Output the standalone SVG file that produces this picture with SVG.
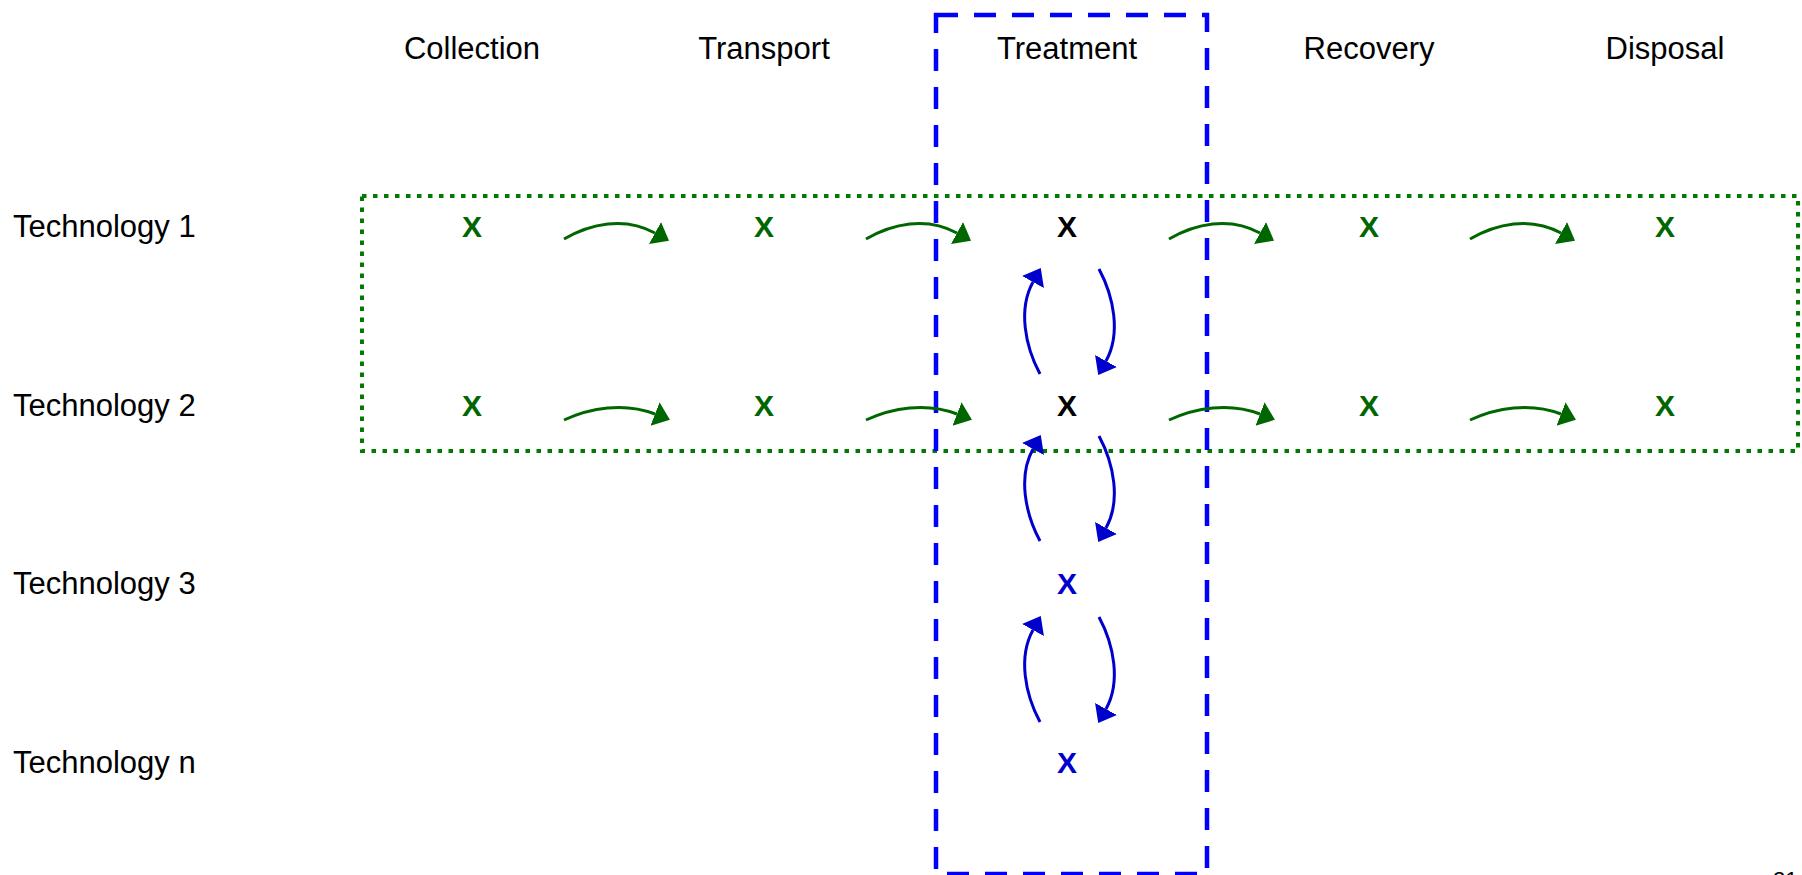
<svg xmlns="http://www.w3.org/2000/svg" width="1802" height="875" viewBox="0 0 1802 875">
<style>
text{font-family:"Liberation Sans",Arial,sans-serif;}
.hdr{font-size:31px;fill:#000;text-anchor:middle;}
.row{font-size:31px;fill:#000;}
.x{font-size:30px;font-weight:bold;text-anchor:middle;}
.g{fill:#006600;}
.k{fill:#000;}
.b{fill:#0000CC;}
.ga{fill:none;stroke:#006600;stroke-width:3;marker-end:url(#ahg);}
.ba{fill:none;stroke:#0000CC;stroke-width:3;marker-end:url(#ahb);}
</style>
<defs>
<marker id="ahg" viewBox="0 0 18 28" markerWidth="18" markerHeight="28" refX="0" refY="14" orient="auto" markerUnits="userSpaceOnUse">
<path d="M0,1.5 L16,14 L0,26.5 Z" fill="#006600"/>
</marker>
<marker id="ahb" viewBox="0 0 18 28" markerWidth="18" markerHeight="28" refX="0" refY="14" orient="auto" markerUnits="userSpaceOnUse">
<path d="M0,1.5 L16,14 L0,26.5 Z" fill="#0000CC"/>
</marker>
</defs>
<rect width="1802" height="875" fill="#fff"/>

<g id="frames">
<rect id="tech-band" x="362" y="196" width="1436" height="255" fill="none" stroke="#007A00" stroke-width="4" stroke-dasharray="4.5 6.5"/>
<rect id="treatment-band" x="936" y="15" width="271" height="859" fill="none" stroke="#0000FF" stroke-width="4.5" stroke-dasharray="22 16"/>
</g>

<g id="headers">
<text class="hdr" x="472" y="59">Collection</text>
<text class="hdr" x="764" y="59">Transport</text>
<text class="hdr" x="1067" y="59">Treatment</text>
<text class="hdr" x="1369" y="59">Recovery</text>
<text class="hdr" x="1665" y="59">Disposal</text>
</g>

<g id="rows">
<text class="row" x="13" y="237">Technology 1</text>
<text class="row" x="13" y="416">Technology 2</text>
<text class="row" x="13" y="594">Technology 3</text>
<text class="row" x="13" y="773">Technology n</text>
</g>

<g id="connectors">
<path class="ga" d="M564,239 C590,224 624,216 655,233"/>
<path class="ga" d="M866,239 C892,224 926,216 957,233"/>
<path class="ga" d="M1169,239 C1195,224 1229,216 1260,233"/>
<path class="ga" d="M1470,239 C1496,224 1530,216 1561,233"/>
<path class="ga" d="M564,420 C590,408 624,402 655,414"/>
<path class="ga" d="M866,420 C892,408 926,402 957,414"/>
<path class="ga" d="M1169,420 C1195,408 1229,402 1260,414"/>
<path class="ga" d="M1470,420 C1496,408 1530,402 1561,414"/>
<path class="ba" d="M1099,269 C1114,297 1121,334 1106,361"/>
<path class="ba" d="M1040,374 C1025,346 1018,309 1033,282"/>
<path class="ba" d="M1099,436 C1114,464 1121,501 1106,528"/>
<path class="ba" d="M1040,541 C1025,513 1018,476 1033,449"/>
<path class="ba" d="M1099,617 C1114,645 1121,682 1106,709"/>
<path class="ba" d="M1040,722 C1025,694 1018,657 1033,630"/>
</g>

<g id="r1-collection"><text class="x g" x="472" y="237">X</text></g>
<g id="r1-transport"><text class="x g" x="764" y="237">X</text></g>
<g id="r1-treatment"><text class="x k" x="1067" y="237">X</text></g>
<g id="r1-recovery"><text class="x g" x="1369" y="237">X</text></g>
<g id="r1-disposal"><text class="x g" x="1665" y="237">X</text></g>
<g id="r2-collection"><text class="x g" x="472" y="416">X</text></g>
<g id="r2-transport"><text class="x g" x="764" y="416">X</text></g>
<g id="r2-treatment"><text class="x k" x="1067" y="416">X</text></g>
<g id="r2-recovery"><text class="x g" x="1369" y="416">X</text></g>
<g id="r2-disposal"><text class="x g" x="1665" y="416">X</text></g>
<g id="r3-treatment"><text class="x b" x="1067" y="594">X</text></g>
<g id="rn-treatment"><text class="x b" x="1067" y="773">X</text></g>

<text id="page-number" x="1773" y="887" style="font-size:22px;fill:#000;">21</text>
</svg>
